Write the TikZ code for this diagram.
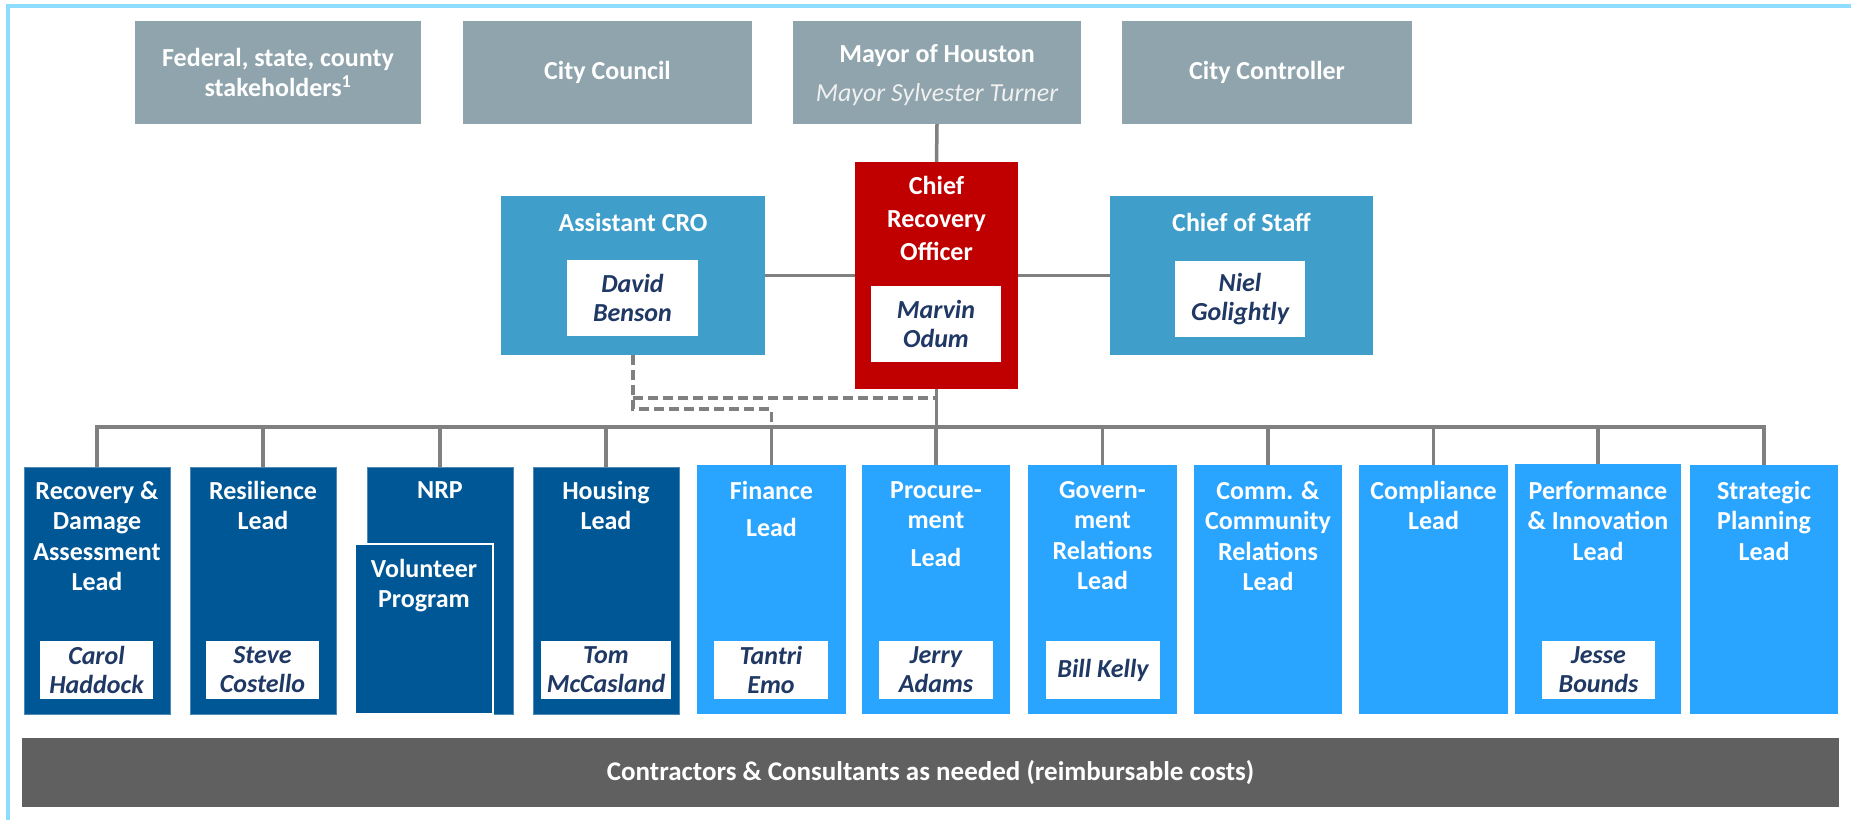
\documentclass[tikz,border=0pt]{standalone}
\usepackage{fontspec}
\setmainfont{Carlito}
\definecolor{frameblue}{RGB}{140,221,255}
\definecolor{topgray}{RGB}{143,164,172}
\definecolor{midblue}{RGB}{64,158,202}
\definecolor{crored}{RGB}{192,0,0}
\definecolor{darkblue}{RGB}{0,87,150}
\definecolor{lightblue}{RGB}{41,164,255}
\definecolor{navy}{RGB}{31,56,100}
\definecolor{conngray}{RGB}{128,128,128}
\definecolor{bargray}{RGB}{96,96,96}
\newcommand{\rbox}[7]{\node[#1,minimum width={(#4-#2)*1pt},minimum height={(#5-#3)*1pt},inner sep=0pt,outer sep=0pt] (#6) at ({(#2+#4)/2},{(#3+#5)/2}) {#7};}
\tikzset{
  topbox/.style={fill=topgray,text=white,align=center,font=\bfseries\fontsize{26}{30}\selectfont},
  midbox/.style={fill=midblue},
  redbox/.style={fill=crored},
  darkbox/.style={fill=darkblue,draw=darkblue!70!white,line width=0.8pt},
  lightbox/.style={fill=lightblue},
  volbox/.style={fill=darkblue,draw=white,line width=1.5pt},
  namebox/.style={fill=white,text=navy,align=center,font=\bfseries\itshape\fontsize{26}{29}\selectfont},
  btxt/.style={text=white,align=center,inner sep=0pt,font=\bfseries\fontsize{26}{30.5}\selectfont},
  conn/.style={draw=conngray,line width=3.5pt},
  dconn/.style={draw=conngray,line width=3.5pt,dash pattern=on 10pt off 5pt},
  frameline/.style={draw=frameblue,line width=4pt},
  barbox/.style={fill=bargray,text=white,font=\bfseries\fontsize{27}{32}\selectfont}
}
\begin{document}
\begin{tikzpicture}[x=1pt,y=-1pt]
\useasboundingbox (0,0) rectangle (1851,820);
% frame
\coordinate (fTL) at (8,6);
\coordinate (fTR) at (1851,6);
\coordinate (fBL) at (8,820);
\draw[frameline] (fTR) -- (fTL) -- (fBL);

% top row
\rbox{topbox}{135}{21}{421}{124}{fed}{Federal, state, county\\stakeholders\textsuperscript{1}}
\rbox{topbox}{463}{21}{752}{124}{council}{City Council}
\rbox{topbox}{793}{21}{1081}{124}{mayor}{}
\node[btxt,anchor=center] (mayort) at (937,56) {Mayor of Houston};
\node[btxt,anchor=center,font=\itshape\fontsize{26}{30}\selectfont,text=white!94!black] (mayorn) at (937,95) {Mayor Sylvester Turner};
\rbox{topbox}{1122}{21}{1412}{124}{controller}{City Controller}

% middle row
\rbox{midbox}{501}{196}{765}{355}{acro}{}
\node[btxt] (acrot) at (633,222) {Assistant CRO};
\rbox{namebox}{567}{260}{698}{336}{acron}{David\\Benson}

\rbox{redbox}{855}{162}{1018}{389}{cro}{}
\node[btxt,anchor=north,font=\bfseries\fontsize{26}{33}\selectfont] (crot) at (936.5,176) {Chief\\Recovery\\Officer};
\rbox{namebox}{871}{286}{1001}{362}{cron}{Marvin\\Odum}

\rbox{midbox}{1110}{196}{1373}{355}{cos}{}
\node[btxt] (cost) at (1241.5,222) {Chief of Staff};
\rbox{namebox}{1175}{261}{1305}{337}{cosn}{Niel\\Golightly}

% bottom row boxes
\rbox{darkbox}{24}{467}{170}{714}{b1}{}
\rbox{darkbox}{190}{467}{336}{714}{b2}{}
\rbox{darkbox}{367}{467}{513}{714}{b3}{}
\rbox{volbox}{355}{544}{493}{714}{vol}{}
\rbox{darkbox}{533}{467}{679}{714}{b4}{}
\rbox{lightbox}{697}{465}{846}{714}{b5}{}
\rbox{lightbox}{862}{465}{1010}{714}{b6}{}
\rbox{lightbox}{1028}{465}{1177}{714}{b7}{}
\rbox{lightbox}{1194}{465}{1342}{714}{b8}{}
\rbox{lightbox}{1359}{465}{1508}{714}{b9}{}
\rbox{lightbox}{1515}{464}{1681}{714}{b10}{}
\rbox{lightbox}{1690}{465}{1838}{714}{b11}{}

% bottom row texts
\node[btxt,anchor=north] (t1) at (97,481) {Recovery \&\\Damage\\Assessment\\Lead};
\node[btxt,anchor=north] (t2) at (263,481) {Resilience\\Lead};
\node[btxt,anchor=north] (t3) at (440,481) {NRP};
\node[btxt,anchor=north] (tv) at (424,559) {Volunteer\\Program};
\node[btxt,anchor=north] (t4) at (606,481) {Housing\\Lead};
\node[btxt,anchor=north] (t5) at (771.5,481) {Finance\\[7pt]Lead};
\node[btxt,anchor=north] (t6) at (936,481) {Procure-\\ment\\[7pt]Lead};
\node[btxt,anchor=north] (t7) at (1102.5,481) {Govern-\\ment\\Relations\\Lead};
\node[btxt,anchor=north] (t8) at (1268,481) {Comm. \&\\Community\\Relations\\Lead};
\node[btxt,anchor=north] (t9) at (1433.5,481) {Compliance\\Lead};
\node[btxt,anchor=north] (t10) at (1598,481) {Performance\\\& Innovation\\Lead};
\node[btxt,anchor=north] (t11) at (1764,481) {Strategic\\Planning\\Lead};

% name boxes
\rbox{namebox}{40}{641}{153}{699}{n1}{Carol\\Haddock}
\rbox{namebox}{206}{641}{319}{699}{n2}{Steve\\Costello}
\rbox{namebox}{541}{641}{671}{699}{n4}{Tom\\McCasland}
\rbox{namebox}{714}{641}{828}{699}{n5}{Tantri\\Emo}
\rbox{namebox}{879}{641}{993}{699}{n6}{Jerry\\Adams}
\rbox{namebox}{1046}{641}{1160}{699}{n7}{Bill Kelly}
\rbox{namebox}{1542}{641}{1655}{699}{n10}{Jesse\\Bounds}

% bottom bar
\rbox{barbox}{22}{738}{1839}{807}{bar}{Contractors \& Consultants as needed (reimbursable costs)}

% connectors
\coordinate (busL) at (97,427);
\coordinate (busR) at (1764,427);
\draw[conn] (mayor.south) -- (cro.north);
\draw[conn] (acro.east) -- (acro.east -| cro.west);
\draw[conn] (cro.east) -- (cro.east -| cos.west);
\draw[conn] (cro.south) -- (cro.south |- busL);
\draw[conn,line cap=rect] (busL) -- (busR);
\foreach \b in {b1,b2,b3,b4,b5,b6,b7,b8,b9,b10,b11}{
  \draw[conn] (\b.north) -- (\b.north |- busL);
}
% dashed links
\coordinate (d1) at (633,398);
\coordinate (d2) at (633,409);
\coordinate (d3) at (771.5,409);
\draw[dconn] (acro.south) -- (d2) -- (d3) -- (d3 |- busL);
\draw[dconn] (d1) -- (d1 -| cro.south);
\end{tikzpicture}
\end{document}
